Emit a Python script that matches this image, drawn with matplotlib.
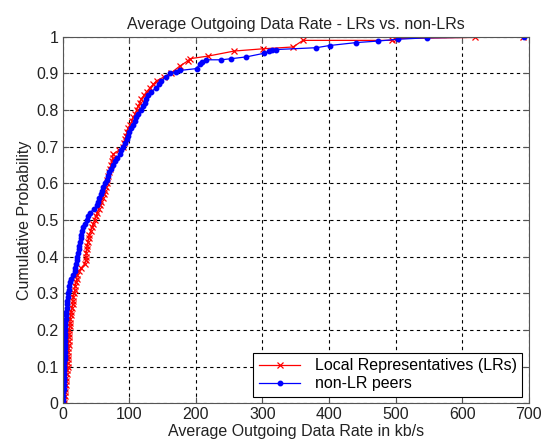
import matplotlib
matplotlib.use("Agg")
import matplotlib.pyplot as plt

plt.rcParams['font.family'] = ['Liberation Sans', 'DejaVu Sans']

# CDF of average outgoing data rate (kb/s)
# Local Representatives
lr_rate = [2, 2.5, 3, 3.5, 4, 4.5, 5, 5.5, 6, 7, 7.5, 7.5, 8, 8, 8.5, 8.5, 9, 9, 9.5, 9.5,
           10, 10.5, 11, 11.5, 12, 13, 14, 15, 15.5, 16, 17, 18, 19, 20, 21, 22, 24, 28,
           33, 35, 35, 35.5, 36, 37, 38, 39, 40, 42, 44, 46, 48, 50, 52, 54, 56, 58, 60,
           62, 63, 65, 66, 67, 68, 70, 71, 73, 74, 75, 76, 84, 91, 92, 94, 95, 97, 98,
           101, 104, 106, 109, 111, 113, 116, 118, 122, 126, 131, 136, 141, 152, 162,
           176, 188, 191, 218, 258, 301, 346, 361, 495, 500, 620, 692]
lr_cdf = [0.00, 0.01, 0.02, 0.03, 0.04, 0.05, 0.06, 0.07, 0.08, 0.09,
          0.10, 0.11, 0.12, 0.13, 0.14, 0.15, 0.16, 0.17, 0.18, 0.19,
          0.20, 0.21, 0.22, 0.23, 0.24, 0.25, 0.26, 0.27, 0.28, 0.29,
          0.30, 0.31, 0.32, 0.33, 0.34, 0.35, 0.36, 0.37, 0.38, 0.39,
          0.40, 0.41, 0.42, 0.43, 0.44, 0.45, 0.46, 0.47, 0.48, 0.49,
          0.50, 0.51, 0.52, 0.53, 0.54, 0.55, 0.56, 0.57, 0.58, 0.59,
          0.60, 0.61, 0.62, 0.63, 0.64, 0.65, 0.66, 0.67, 0.68, 0.69,
          0.70, 0.71, 0.72, 0.73, 0.74, 0.75, 0.76, 0.77, 0.78, 0.79,
          0.80, 0.81, 0.82, 0.83, 0.84, 0.85, 0.86, 0.87, 0.88, 0.89,
          0.90, 0.92, 0.934, 0.94, 0.947, 0.961, 0.967, 0.972, 0.99, 0.99,
          0.995, 0.998, 1.0]

# non-LR peers
peer_rate = [0, 0.5, 1, 1, 1.5, 1.5, 2, 2, 2, 2.5, 2.5, 2.5, 3, 3, 3, 3, 3, 3.5, 3.5, 3.5,
             3.5, 4, 4, 4.5, 5, 5.5, 6, 6.5, 7, 8, 8.5, 9, 10, 11, 12, 15, 18, 19, 20, 21,
             22, 23, 24, 25, 26, 27, 28, 29.5, 31, 33, 36, 38, 41, 47, 51, 53, 55, 57, 59,
             61, 64, 66, 68, 70, 72, 75, 78, 82, 86, 88, 91, 93, 96, 98, 100, 103, 105,
             108, 110, 113, 118, 120, 123, 125, 128, 133, 140, 144, 148, 155, 161,
             170, 176, 201, 206, 210, 216, 238, 253, 276, 303, 310, 315, 321, 381, 401,
             441, 473, 503, 547, 693]
peer_cdf = [0.00, 0.01, 0.02, 0.03, 0.04, 0.05, 0.06, 0.07, 0.08, 0.09,
            0.10, 0.11, 0.12, 0.13, 0.14, 0.15, 0.16, 0.17, 0.18, 0.19,
            0.20, 0.21, 0.22, 0.23, 0.24, 0.25, 0.26, 0.27, 0.28, 0.29,
            0.30, 0.31, 0.32, 0.33, 0.34, 0.35, 0.36, 0.37, 0.38, 0.39,
            0.40, 0.41, 0.42, 0.43, 0.44, 0.45, 0.46, 0.47, 0.48, 0.49,
            0.50, 0.51, 0.52, 0.53, 0.54, 0.55, 0.56, 0.57, 0.58, 0.59,
            0.60, 0.61, 0.62, 0.63, 0.64, 0.65, 0.66, 0.67, 0.68, 0.69,
            0.70, 0.71, 0.72, 0.73, 0.74, 0.75, 0.76, 0.77, 0.78, 0.79,
            0.80, 0.81, 0.82, 0.83, 0.84, 0.85, 0.86, 0.87, 0.88, 0.89,
            0.90, 0.905, 0.908, 0.913, 0.926, 0.93, 0.937, 0.937, 0.94, 0.945,
            0.955, 0.96, 0.963, 0.965, 0.97, 0.976, 0.984, 0.988, 0.993, 0.997,
            1.0]

x_ticks = [0, 100, 200, 300, 400, 500, 600, 700]
y_ticks = [0, 0.1, 0.2, 0.3, 0.4, 0.5, 0.6, 0.7, 0.8, 0.9, 1]
y_labels = ['0', '0.1', '0.2', '0.3', '0.4', '0.5', '0.6', '0.7', '0.8', '0.9', '1']

fig = plt.figure(figsize=(5.51, 4.46), dpi=100)
ax = fig.add_axes([0.1138, 0.0957, 0.8457, 0.822])

ax.plot(lr_rate, lr_cdf, color='red', linestyle='-', linewidth=0.9,
        marker='x', markersize=4.5, markeredgewidth=0.9,
        label='Local Representatives (LRs)')
ax.plot(peer_rate, peer_cdf, color='blue', linestyle='-', linewidth=0.9,
        marker='o', markersize=3.2, label='non-LR peers')

ax.set_xlim(0, 700)
ax.set_ylim(0, 1)
ax.set_xticks(x_ticks)
ax.set_yticks(y_ticks)
ax.set_yticklabels(y_labels)
ax.grid(True, color='black', linestyle=(0, (3, 3)), linewidth=0.8)
ax.tick_params(direction='in', length=4, labelsize=11.5, colors='#222222', pad=3,
               top=True, right=True)
ax.tick_params(color='#555555')
for sp in ax.spines.values():
    sp.set_color('#555555')

ax.set_title('Average Outgoing Data Rate - LRs vs. non-LRs', fontsize=11.5, color='#222222', pad=5.5)
ax.set_xlabel('Average Outgoing Data Rate in kb/s', fontsize=11.5, color='#222222', labelpad=1)
ax.set_ylabel('Cumulative Probability', fontsize=11.5, color='#222222', labelpad=3)

leg = ax.legend(loc='lower right', fontsize=11.5, fancybox=False, framealpha=1,
                edgecolor='black', borderaxespad=0.4, handlelength=2.6,
                labelspacing=0.2, borderpad=0.35, handletextpad=0.9)
leg.get_frame().set_linewidth(0.8)

fig.savefig('out.png', dpi=100)
